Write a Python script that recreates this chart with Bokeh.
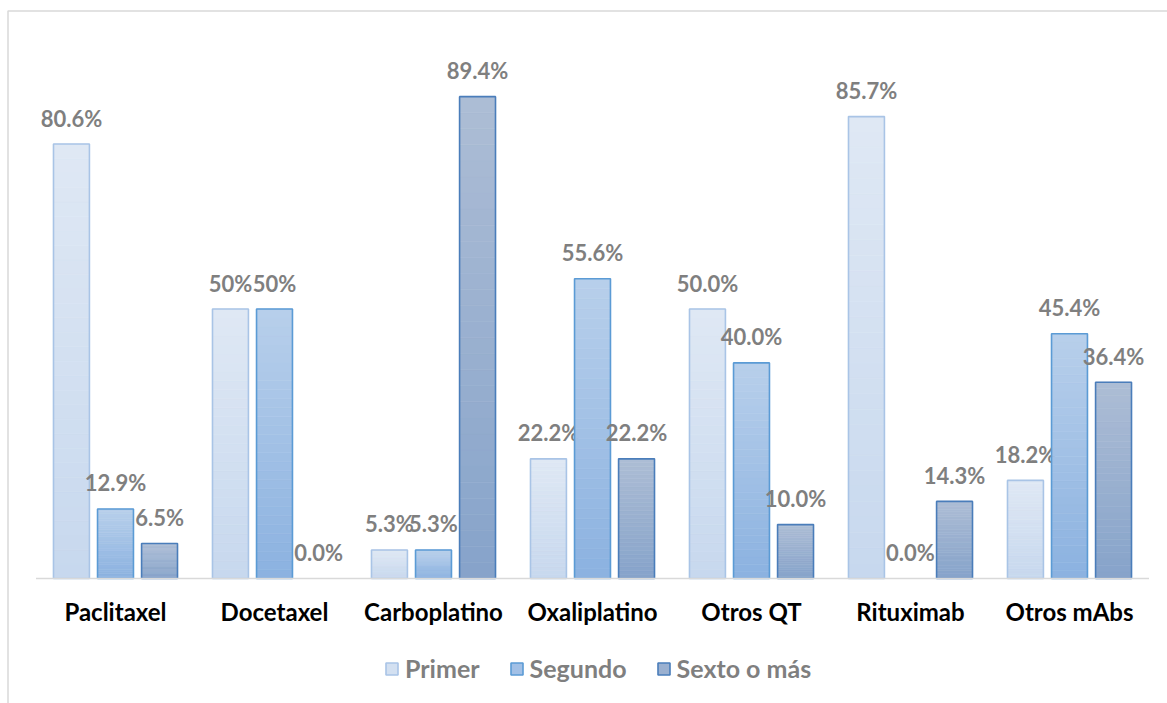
import numpy as np
from bokeh.plotting import figure
from bokeh.models import ColumnDataSource, Range1d, Legend, LegendItem
from bokeh.core.properties import value
from bokeh.embed import file_html
from bokeh.resources import INLINE

# ---- data -------------------------------------------------------------
categories = ["Paclitaxel", "Docetaxel", "Carboplatino", "Oxaliplatino",
              "Otros QT", "Rituximab", "Otros mAbs"]
series_names = ["Primer", "Segundo", "Sexto o más"]
primer = [80.6, 50.0, 5.3, 22.2, 50.0, 85.7, 18.2]
segundo = [12.9, 50.0, 5.3, 55.6, 40.0, 0.0, 45.4]
sexto = [6.5, 0.0, 89.4, 22.2, 10.0, 14.3, 36.4]
primer_labels = ["80.6%", "50%", "5.3%", "22.2%", "50.0%", "85.7%", "18.2%"]
segundo_labels = ["12.9%", "50%", "5.3%", "55.6%", "40.0%", "0.0%", "45.4%"]
sexto_labels = ["6.5%", "0.0%", "89.4%", "22.2%", "10.0%", "14.3%", "36.4%"]

# ---- styling ----------------------------------------------------------
FONT = "Lato"
GREY_TEXT = "#7f7f7f"
AXIS_GREY = "#d9d9d9"
TOP_COLORS = ["#dfe8f4", "#b8cfeb", "#adbdd5"]
BOTTOM_COLORS = ["#c7d8ee", "#8bb2e0", "#86a3ca"]
EDGE_COLORS = ["#a9c4e6", "#5b9bd5", "#4a7dba"]
OFFSETS = [-0.277, 0.0, 0.277]
BAR_W = 0.226
N_BANDS = 30

# canvas geometry (pixels)
W, H = 1167, 703
X0_PX, STEP_PX = 115.0, 159.0      # centre of first group, group pitch
BASE_PX, PX_PER_PCT = 578.0, 5.39  # baseline row, pixels per percent

x_range = Range1d((0 - X0_PX) / STEP_PX, (W - X0_PX) / STEP_PX)
y_range = Range1d(-(H - BASE_PX) / PX_PER_PCT, BASE_PX / PX_PER_PCT)

p = figure(width=W, height=H, output_backend="svg", toolbar_location=None,
           x_range=x_range, y_range=y_range, min_border=0,
           x_axis_location=None, y_axis_location=None)
p.grid.visible = False
p.outline_line_color = None
p.background_fill_color = "white"
p.border_fill_color = "white"


def to_rgb(h):
    h = h.lstrip("#")
    return np.array([int(h[i:i + 2], 16) for i in (0, 2, 4)], dtype=float)


def mix(c_bottom, c_top, t):
    c = to_rgb(c_bottom) * (1 - t) + to_rgb(c_top) * t
    return "#%02x%02x%02x" % tuple(int(round(v)) for v in c)


# chart frame (left and top edges)
xl = (7.5 - X0_PX) / STEP_PX
xr = (W - X0_PX) / STEP_PX
yt = (BASE_PX - 10.5) / PX_PER_PCT
yb = -(H - BASE_PX) / PX_PER_PCT
p.line(x=[xl, xl, xr], y=[yb, yt, yt], line_color=AXIS_GREY, line_width=1.5)

all_values = [primer, segundo, sexto]
all_labels = [primer_labels, segundo_labels, sexto_labels]
idx = np.arange(len(categories))
legend_items = []

for s, vals in enumerate(all_values):
    xs = idx + OFFSETS[s]
    # vertical gradient fill made of thin bands
    lefts, rights, bottoms, tops, colors = [], [], [], [], []
    for x, v in zip(xs, vals):
        if v <= 0:
            continue
        for k in range(N_BANDS):
            lefts.append(x - BAR_W / 2)
            rights.append(x + BAR_W / 2)
            bottoms.append(v * k / N_BANDS)
            tops.append(v * (k + 1) / N_BANDS)
            colors.append(mix(BOTTOM_COLORS[s], TOP_COLORS[s], (k + 0.5) / N_BANDS))
    band_src = ColumnDataSource(dict(left=lefts, right=rights, bottom=bottoms,
                                     top=tops, color=colors))
    p.quad(left="left", right="right", bottom="bottom", top="top",
           fill_color="color", line_color="color", line_width=0.6,
           source=band_src)

    # bar outlines
    out_src = ColumnDataSource(dict(x=xs, top=vals,
                                    alpha=[1.0 if v > 0 else 0.0 for v in vals]))
    p.vbar(x="x", top="top", bottom=0, width=BAR_W, source=out_src,
           fill_color=None, line_color=EDGE_COLORS[s], line_width=1.6,
           line_alpha="alpha")

    # value labels
    lab_src = ColumnDataSource(dict(x=xs, y=vals, text=all_labels[s]))
    p.text(x="x", y="y", text="text", source=lab_src, text_align="center",
           text_baseline="alphabetic", y_offset=-26,
           text_font=value(FONT), text_font_style="bold",
           text_font_size="22px", text_color=GREY_TEXT)

    # legend swatch (a single non-finite row: shown only in the legend)
    swatch = p.quad(left=[np.nan], right=[np.nan], bottom=[np.nan], top=[np.nan],
                    fill_color=mix(BOTTOM_COLORS[s], TOP_COLORS[s], 0.5),
                    line_color=EDGE_COLORS[s], line_width=1.6)
    legend_items.append(LegendItem(label=series_names[s], renderers=[swatch]))

# baseline
p.segment(x0=[-0.5], x1=[len(categories) - 0.5], y0=[0], y1=[0],
          line_color=AXIS_GREY, line_width=1.6)

# category labels
cat_src = ColumnDataSource(dict(x=idx, y=[0] * len(categories), text=categories))
p.text(x="x", y="y", text="text", source=cat_src, text_align="center",
       text_baseline="alphabetic", y_offset=33,
       text_font=value(FONT), text_font_style="bold",
       text_font_size="24px", text_color="black")

legend = Legend(items=legend_items, orientation="horizontal",
                location=(384, 20), glyph_width=15, glyph_height=15,
                label_standoff=6, spacing=29, padding=0, margin=0,
                border_line_color=None, background_fill_alpha=0,
                label_text_font=FONT, label_text_font_style="bold",
                label_text_font_size="25px", label_text_color=GREY_TEXT,
                label_height=15)
p.add_layout(legend, "center")

open("out.html", "w").write(file_html(p, INLINE))
